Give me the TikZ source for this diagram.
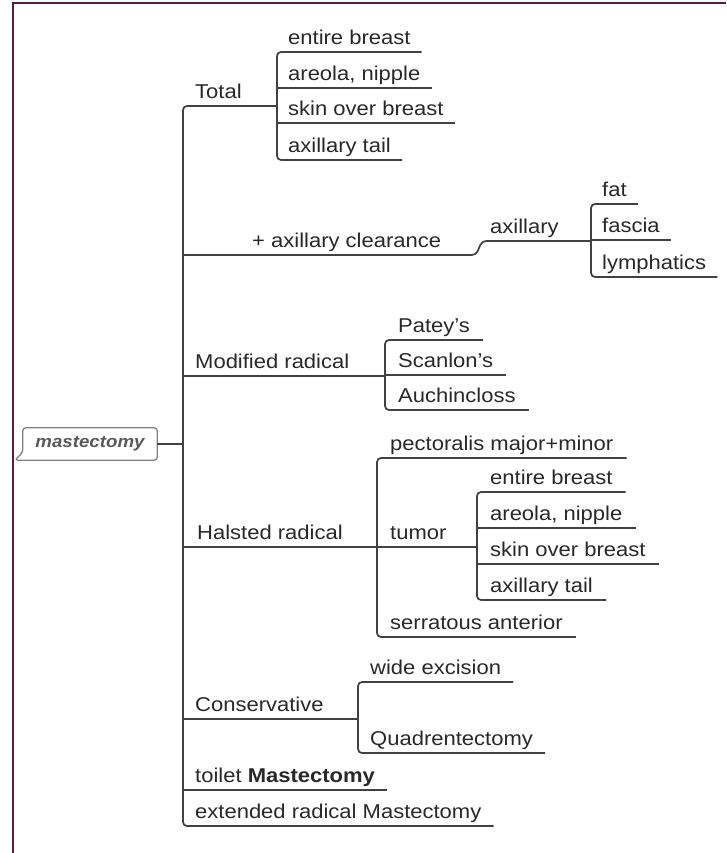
\documentclass[tikz,border=0pt]{standalone}
\usepackage{fontspec}
\setmainfont{Liberation Sans}[FakeStretch=1.1]
\usepackage{tikz}
\definecolor{framered}{RGB}{92,30,50}
\definecolor{inkgray}{RGB}{40,40,40}
\definecolor{linegray}{RGB}{65,65,65}

\begin{document}
\begin{tikzpicture}[x=1pt,y=-1pt,
  every node/.style={font=\fontsize{20}{24}\selectfont, text=inkgray},
  leaf/.style={anchor=south west, inner xsep=11pt, inner ysep=5pt, text height=14pt, text depth=2pt},
  branch/.style={leaf, inner xsep=12pt},
  conn/.style={draw=linegray, line width=1.7pt, rounded corners=4pt},
  rootbox/.style={draw=gray, line width=1.3pt, rounded corners=3pt}]
\useasboundingbox (0,0) rectangle (726,853);
% frame
\draw[framered, line width=2pt] (13,853) -- (13,3) -- (726,3);

% root
\node[font=\fontsize{17}{19}\selectfont\bfseries\itshape, text=gray!70!black, minimum width=134pt, minimum height=32pt, inner sep=0pt] (root) at (90,444) {mastectomy};
\draw[rootbox] (root.south east) -- ([xshift=-8pt]root.south west) -- ([yshift=8pt]root.south west) -- (root.north west) -- (root.north east) -- cycle;

% first level
\node[branch] (total) at (183,106) {Total};
\node[branch, inner xsep=0pt] (clear) at (252,255) {+ axillary clearance};
\node[branch] (modrad) at (183,376) {Modified radical};
\node[branch, inner xsep=14pt] (halsted) at (183,547) {Halsted radical};
\node[branch] (cons) at (183,719) {Conservative};
\node[branch] (toilet) at (183,790) {toilet \textbf{Mastectomy}};
\node[branch] (extrad) at (183,826) {extended radical Mastectomy};

% total
\node[leaf] (tbreast) at (277,52) {entire breast};
\node[leaf] (tareola) at (277,88) {areola, nipple};
\node[leaf] (tskin) at (277,123) {skin over breast};
\node[leaf] (ttail) at (277,160) {axillary tail};

% axillary clearance
\node[leaf, inner xsep=8pt] (axil) at (482,241) {axillary};
\node[leaf] (fat) at (591,204) {fat};
\node[leaf] (fascia) at (591,240) {fascia};
\node[leaf] (lymph) at (591,277) {lymphatics};

% modified radical
\node[leaf, inner xsep=13pt] (patey) at (385,340) {Patey's};
\node[leaf, inner xsep=13pt] (scanlon) at (385,375) {Scanlon's};
\node[leaf, inner xsep=13pt] (auchin) at (385,410) {Auchincloss};

% halsted radical
\node[leaf, inner xsep=13pt] (pector) at (377,458) {pectoralis major+minor};
\node[leaf, inner xsep=13pt] (tumor) at (377,547) {tumor};
\node[leaf, inner xsep=13pt] (serrat) at (377,637) {serratous anterior};
\node[leaf, inner xsep=13pt] (hbreast) at (477,492) {entire breast};
\node[leaf, inner xsep=13pt] (hareola) at (477,528) {areola, nipple};
\node[leaf, inner xsep=13pt] (hskin) at (477,564) {skin over breast};
\node[leaf, inner xsep=13pt] (htail) at (477,600) {axillary tail};

% conservative
\node[leaf, inner xsep=12pt] (wide) at (358,682) {wide excision};
\node[leaf, inner xsep=12pt] (quadr) at (358,753) {Quadrentectomy};

% trunk
\draw[conn] (root.east) -- (root.east -| total.west);
\draw[conn] (tbreast.south west |- total.south) -- (total.south west) -- (extrad.south west) -- (extrad.south east);
\draw[conn] (total.south west |- clear.south) -- ([xshift=-6pt]axil.south west |- clear.south) -- (axil.south west) -- (fat.south west |- axil.south);
\draw[conn] (modrad.south west) -- (patey.south west |- modrad.south);
\draw[conn] (halsted.south west) -- (hbreast.south west |- halsted.south);
\draw[conn] (cons.south west) -- (wide.south west |- cons.south);
\draw[conn] (toilet.south west) -- (toilet.south east);

% sub trunks
\draw[conn] (tbreast.south east) -- (tbreast.south west) -- (ttail.south west) -- (ttail.south east);
\draw[conn] (fat.south east) -- (fat.south west) -- (lymph.south west) -- (lymph.south east);
\draw[conn] (patey.south east) -- (patey.south west) -- (auchin.south west) -- (auchin.south east);
\draw[conn] (pector.south east) -- (pector.south west) -- (serrat.south west) -- (serrat.south east);
\draw[conn] (hbreast.south east) -- (hbreast.south west) -- (htail.south west) -- (htail.south east);
\draw[conn] (wide.south east) -- (wide.south west) -- (quadr.south west) -- (quadr.south east);
\foreach \n in {tareola,tskin,fascia,scanlon,hareola,hskin}
  \draw[conn] (\n.south west) -- (\n.south east);

\end{tikzpicture}
\end{document}
